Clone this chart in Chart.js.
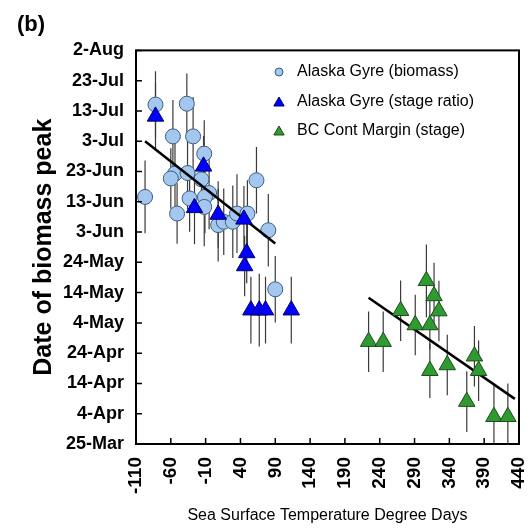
<!DOCTYPE html>
<html lang="en">
<head>
<meta charset="UTF-8" />
<title>Date of biomass peak</title>
<script src="https://cdn.jsdelivr.net/npm/chart.js"></script>
<style>
  html, body { margin: 0; padding: 0; background: #fff; }
  #wrap { width: 531px; height: 531px; }
</style>
</head>
<body>
<div id="wrap"><canvas id="chart"></canvas></div>
<script>
// y values are day of year (25-Mar = 84 ... 2-Aug = 214)
const yTickDays = [84, 94, 104, 114, 124, 134, 144, 154, 164, 174, 184, 194, 204, 214];
const yTickLabels = ['25-Mar', '4-Apr', '14-Apr', '24-Apr', '4-May', '14-May', '24-May',
                     '3-Jun', '13-Jun', '23-Jun', '3-Jul', '13-Jul', '23-Jul', '2-Aug'];
const xTicks = [-110, -60, -10, 40, 90, 140, 190, 240, 290, 340, 390, 440];

// Alaska Gyre (biomass)
const bioX = [-97, -82, -37, -57, -28, -12, -54, -60, -36, -16, -5, -33, -11, -12, -51, 8, 16, 29, 35, 50, 63, 80, 90];
const bioY = [165.6, 196.1, 196.4, 185.6, 185.6, 179.9, 173.3, 171.7, 173.5, 171.4, 166.9, 165.1, 165.6, 162.3,
              160.1, 156.3, 157.4, 157.4, 160.1, 160.1, 171.1, 154.6, 135.1];
const bioErr = [12, 11, 10, 12, 13, 11, 12, 10, 12, 11, 12, 11, 12, 13, 10, 12, 11, 12, 13, 11, 11, 12, 11];

// Alaska Gyre (stage ratio)
const ratioX = [-82, -13, -26, 8, 45, 49, 46, 55, 67, 76, 113];
const ratioY = [192.2, 175.7, 162, 159.8, 158.2, 147.1, 142.8, 128.2, 128.2, 128.2, 128.2];
const ratioErr = [11, 10, 12, 11, 11, 10, 10, 11, 12, 11, 11];

// BC Cont Margin (stage)
const bcX = [224, 245, 270, 307, 318, 325, 291, 312, 312, 337, 376, 382, 365, 404, 424];
const bcY = [117.8, 117.8, 128, 137.9, 132.9, 127.9, 123.3, 123.3, 108.2, 110.1, 113, 108.2, 98, 93, 93];
const bcErr = [10, 10, 10, 12, 11, 10, 10, 8, 9, 10, 10, 10, 10, 11, 11];

// fitted lines
const alaskaFitX = [-97, 90];
const alaskaFitY = [184, 150.2];
const bcFitX = [224, 434];
const bcFitY = [132.3, 98.9];

const legendLabels = ['Alaska Gyre (biomass)', 'Alaska Gyre (stage ratio)', 'BC Cont Margin (stage)'];

const pts = (xs, ys) => xs.map((x, i) => ({ x: x, y: ys[i] }));
const FONT = "'Liberation Sans', Arial, sans-serif";
Chart.defaults.font.family = FONT;
Chart.defaults.color = '#000';

const errorBars = {
  id: 'errorBars',
  beforeDatasetsDraw(chart) {
    const { ctx, chartArea, scales: { x, y } } = chart;
    ctx.save();
    ctx.beginPath();
    ctx.rect(chartArea.left, chartArea.top, chartArea.right - chartArea.left, chartArea.bottom - chartArea.top);
    ctx.clip();
    ctx.strokeStyle = '#3a3a3a';
    ctx.lineWidth = 1.2;
    chart.data.datasets.forEach(ds => {
      if (!ds.errors) return;
      ds.data.forEach((p, i) => {
        const px = x.getPixelForValue(p.x);
        ctx.beginPath();
        ctx.moveTo(px, y.getPixelForValue(p.y - ds.errors[i]));
        ctx.lineTo(px, y.getPixelForValue(p.y + ds.errors[i]));
        ctx.stroke();
      });
    });
    ctx.restore();
  }
};

const frame = {
  id: 'frame',
  afterDraw(chart) {
    const { ctx, chartArea: a, scales: { x, y } } = chart;
    ctx.save();
    ctx.strokeStyle = '#000';
    ctx.lineWidth = 1.5;
    ctx.beginPath();
    x.ticks.forEach(t => {
      const px = x.getPixelForValue(t.value);
      ctx.moveTo(px, a.bottom);
      ctx.lineTo(px, a.bottom - 6);
    });
    y.ticks.forEach(t => {
      const py = y.getPixelForValue(t.value);
      ctx.moveTo(a.left, py);
      ctx.lineTo(a.left + 6, py);
    });
    ctx.stroke();
    ctx.lineWidth = 2;
    ctx.strokeRect(a.left, a.top, a.right - a.left, a.bottom - a.top);
    ctx.restore();
  }
};

function tri(ctx, x, y, r) {
  ctx.beginPath();
  ctx.moveTo(x, y - r);
  ctx.lineTo(x + r * 0.866, y + r * 0.5);
  ctx.lineTo(x - r * 0.866, y + r * 0.5);
  ctx.closePath();
  ctx.fill();
  ctx.stroke();
}

const legendBox = {
  id: 'legendBox',
  afterDraw(chart) {
    const ctx = chart.ctx;
    const rows = [72, 102, 131];
    ctx.save();
    ctx.lineWidth = 1;
    // markers
    ctx.fillStyle = '#a3c7ee'; ctx.strokeStyle = '#3d5d80';
    ctx.beginPath(); ctx.arc(279, rows[0], 4, 0, Math.PI * 2); ctx.fill(); ctx.stroke();
    ctx.fillStyle = '#0000ff'; ctx.strokeStyle = '#000066';
    tri(ctx, 279, rows[1] + 1, 6);
    ctx.fillStyle = '#2f9a2f'; ctx.strokeStyle = '#1a4d1a';
    tri(ctx, 279, rows[2] + 1, 6);
    ctx.fillStyle = '#000';
    ctx.font = '16px ' + FONT;
    ctx.textBaseline = 'middle';
    ctx.textAlign = 'left';
    legendLabels.forEach((t, i) => ctx.fillText(t, 297, rows[i]));
    ctx.restore();
  }
};

new Chart(document.getElementById('chart'), {
  type: 'scatter',
  data: {
    datasets: [
      {
        label: legendLabels[1],
        data: pts(ratioX, ratioY),
        errors: ratioErr,
        pointStyle: 'triangle',
        pointRadius: 9.5,
        backgroundColor: '#0000ff',
        borderColor: '#000066',
        borderWidth: 1
      },
      {
        label: legendLabels[2],
        data: pts(bcX, bcY),
        errors: bcErr,
        pointStyle: 'triangle',
        pointRadius: 9.5,
        backgroundColor: '#2f9a2f',
        borderColor: '#1a4d1a',
        borderWidth: 1
      },
      {
        type: 'line',
        label: 'Alaska fit',
        data: pts(alaskaFitX, alaskaFitY),
        borderColor: '#000',
        borderWidth: 2.5,
        pointRadius: 0,
        fill: false
      },
      {
        type: 'line',
        label: 'BC fit',
        data: pts(bcFitX, bcFitY),
        borderColor: '#000',
        borderWidth: 2.5,
        pointRadius: 0,
        fill: false
      },
      {
        label: legendLabels[0],
        data: pts(bioX, bioY),
        errors: bioErr,
        pointStyle: 'circle',
        pointRadius: 7.5,
        backgroundColor: '#a3c7ee',
        borderColor: '#3d5d80',
        borderWidth: 1
      }
    ]
  },
  options: {
    responsive: true,
    maintainAspectRatio: false,
    animation: false,
    layout: { padding: { left: 17, right: 12, top: 6, bottom: 0 } },
    plugins: {
      legend: { display: false },
      tooltip: { enabled: false },
      title: {
        display: true,
        text: '(b)',
        align: 'start',
        color: '#000',
        font: { size: 22, weight: 'bold' },
        padding: { top: 6, bottom: 12 }
      }
    },
    scales: {
      x: {
        type: 'linear',
        min: -110,
        max: 440,
        afterBuildTicks: s => { s.ticks = xTicks.map(v => ({ value: v })); },
        afterFit: s => { s.height = 87; s.paddingLeft = 0; s.paddingRight = 0; },
        grid: { display: false, drawTicks: false },
        border: { display: false },
        ticks: {
          autoSkip: false,
          minRotation: 90,
          maxRotation: 90,
          padding: 13,
          color: '#000',
          font: { size: 19, weight: 'bold' },
          callback: v => String(v)
        },
        title: {
          display: true,
          text: 'Sea Surface Temperature Degree Days',
          color: '#000',
          font: { size: 16 },
          padding: { top: 0, bottom: 6 }
        }
      },
      y: {
        type: 'linear',
        min: 84,
        max: 214,
        afterBuildTicks: s => { s.ticks = yTickDays.map(v => ({ value: v })); },
        afterFit: s => { s.width = 119; s.paddingTop = 0; s.paddingBottom = 0; },
        grid: { display: false, drawTicks: false },
        border: { display: false },
        ticks: {
          padding: 12,
          color: '#000',
          font: { size: 18, weight: 'bold' },
          callback: v => yTickLabels[yTickDays.indexOf(v)]
        },
        title: {
          display: true,
          text: 'Date of biomass peak',
          color: '#000',
          font: { size: 25, weight: 'bold' },
          padding: { top: 12, bottom: 0 }
        }
      }
    }
  },
  plugins: [errorBars, frame, legendBox]
});
</script>
</body>
</html>
